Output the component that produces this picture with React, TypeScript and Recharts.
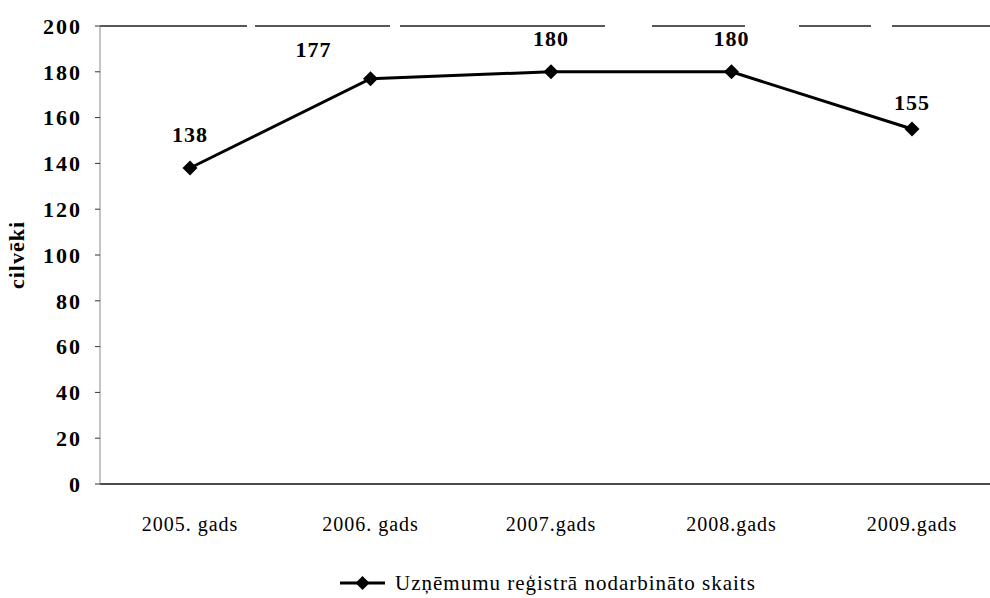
import { LineChart, Line, XAxis, YAxis, Legend, ReferenceLine } from 'recharts';

const years = ['2005. gads', '2006. gads', '2007.gads', '2008.gads', '2009.gads'];
const employed = [138, 177, 180, 180, 155];
const yTicks = [0, 20, 40, 60, 80, 100, 120, 140, 160, 180, 200];

const SERIES = 'Uzņēmumu reģistrā nodarbināto skaits';
const FONT = '"Liberation Serif", "Times New Roman", serif';

const chartData = years.map((year, i) => ({ year, value: employed[i] }));

const Diamond = (props: any) => {
  const { cx, cy } = props;
  if (cx == null || cy == null) return null;
  const r = 7.5;
  return (
    <path
      d={`M${cx},${cy - r} L${cx + r},${cy} L${cx},${cy + r} L${cx - r},${cy} Z`}
      fill="#000"
    />
  );
};

const ValueLabel = (props: any) => {
  const { x, y, value, index } = props;
  // the 2006 label sits up and to the left of its point in the original
  let dx = 0;
  let dy = -26;
  if (index === 1) {
    dx = -57;
    dy = -22;
  }
  if (index === 4) dy = -19;
  return (
    <text
      x={x + dx}
      y={y + dy}
      textAnchor="middle"
      fontFamily={FONT}
      fontWeight="bold"
      fontSize={22}
      letterSpacing={1}
      fill="#000"
    >
      {value}
    </text>
  );
};

const renderLegend = () => (
  <div
    style={{
      marginLeft: 340,
      height: 30,
      display: 'flex',
      alignItems: 'center',
      fontFamily: FONT,
      fontSize: 21,
      letterSpacing: 1,
      color: '#000',
      whiteSpace: 'nowrap',
    }}
  >
    <svg width={45} height={18} style={{ marginRight: 10 }}>
      <line x1={0} y1={9} x2={45} y2={9} stroke="#000" strokeWidth={3} />
      <path d="M22.5,2 L29.5,9 L22.5,16 L15.5,9 Z" fill="#000" />
    </svg>
    <span>{SERIES}</span>
  </div>
);

export default function App() {
  return (
    <div
      style={{
        position: 'absolute',
        left: 0,
        top: 0,
        width: 990,
        height: 598,
        overflow: 'hidden',
        background: '#fff',
      }}
    >
      <LineChart
        width={1010}
        height={598}
        data={chartData}
        margin={{ top: 26, right: 8, bottom: 0, left: 0 }}
      >
        <ReferenceLine
          y={200}
          stroke="#222"
          strokeWidth={1.5}
          strokeDasharray="147 8 135 10 205 47 93 54 72 21 200"
        />
        <XAxis
          dataKey="year"
          padding={{ left: 90, right: 90 }}
          axisLine={{ stroke: '#111', strokeWidth: 1.5 }}
          tickLine={false}
          tickSize={0}
          tickMargin={33}
          height={84}
          tick={{ fontFamily: FONT, fontSize: 20, letterSpacing: 1, fill: '#000' }}
        />
        <YAxis
          domain={[0, 200]}
          ticks={yTicks}
          width={100}
          axisLine={{ stroke: '#888', strokeWidth: 1 }}
          tickLine={{ stroke: '#333' }}
          tickSize={5}
          tickMargin={13}
          tick={{ fontFamily: FONT, fontSize: 22, fontWeight: 'bold', letterSpacing: 2, fill: '#000' }}
          label={{
            value: 'cilvēki',
            angle: -90,
            position: 'insideLeft',
            offset: 16,
            style: {
              fontFamily: FONT,
              fontSize: 22,
              fontWeight: 'bold',
              letterSpacing: 1,
              fill: '#000',
              textAnchor: 'middle',
            },
          }}
        />
        <Legend
          verticalAlign="bottom"
          height={0}
          content={renderLegend}
          wrapperStyle={{ left: 0, top: 568, width: 1010, bottom: 'auto' }}
        />
        <Line
          type="linear"
          dataKey="value"
          name={SERIES}
          stroke="#000"
          strokeWidth={3}
          dot={<Diamond />}
          activeDot={false}
          label={<ValueLabel />}
          isAnimationActive={false}
        />
      </LineChart>
    </div>
  );
}
